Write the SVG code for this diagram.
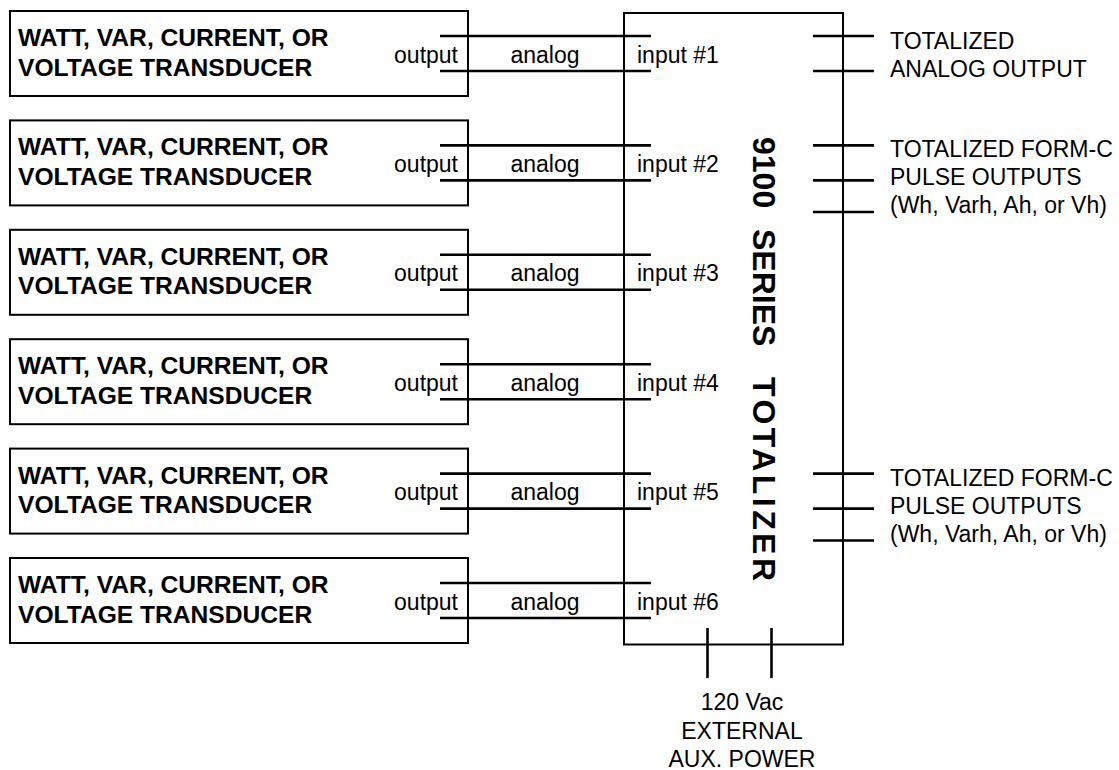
<svg xmlns="http://www.w3.org/2000/svg" width="1119" height="770" viewBox="0 0 1119 770">
<style>
.box{fill:none;stroke:#000;stroke-width:2}
.ln{stroke:#000;stroke-width:2.6;fill:none}
.b{font-family:"Liberation Sans",Arial,sans-serif;font-weight:bold;font-size:24.6px;fill:#000}
.r{font-family:"Liberation Sans",Arial,sans-serif;font-size:23px;fill:#000}
.t{font-family:"Liberation Sans",Arial,sans-serif;font-weight:bold;font-size:32px;fill:#000}
</style>
<rect x="0" y="0" width="1119" height="770" fill="#fff"/>
<g id="transducer1"><rect class="box" x="10" y="11" width="458" height="85"/><text class="b" x="18" y="46">WATT, VAR, CURRENT, OR</text><text class="b" x="18" y="75.5">VOLTAGE TRANSDUCER</text><text class="r" x="458" y="62.5" text-anchor="end">output</text></g>
<g id="transducer2"><rect class="box" x="10" y="120.4" width="458" height="85"/><text class="b" x="18" y="155.4">WATT, VAR, CURRENT, OR</text><text class="b" x="18" y="184.9">VOLTAGE TRANSDUCER</text><text class="r" x="458" y="171.9" text-anchor="end">output</text></g>
<g id="transducer3"><rect class="box" x="10" y="229.8" width="458" height="85"/><text class="b" x="18" y="264.8">WATT, VAR, CURRENT, OR</text><text class="b" x="18" y="294.3">VOLTAGE TRANSDUCER</text><text class="r" x="458" y="281.3" text-anchor="end">output</text></g>
<g id="transducer4"><rect class="box" x="10" y="339.2" width="458" height="85"/><text class="b" x="18" y="374.2">WATT, VAR, CURRENT, OR</text><text class="b" x="18" y="403.7">VOLTAGE TRANSDUCER</text><text class="r" x="458" y="390.7" text-anchor="end">output</text></g>
<g id="transducer5"><rect class="box" x="10" y="448.6" width="458" height="85"/><text class="b" x="18" y="483.6">WATT, VAR, CURRENT, OR</text><text class="b" x="18" y="513.1">VOLTAGE TRANSDUCER</text><text class="r" x="458" y="500.1" text-anchor="end">output</text></g>
<g id="transducer6"><rect class="box" x="10" y="558" width="458" height="85"/><text class="b" x="18" y="593">WATT, VAR, CURRENT, OR</text><text class="b" x="18" y="622.5">VOLTAGE TRANSDUCER</text><text class="r" x="458" y="609.5" text-anchor="end">output</text></g>
<g id="totalizer"><rect class="box" x="624" y="13" width="219" height="631.5"/>
<text class="r" x="637" y="62.5">input #1</text>
<text class="r" x="637" y="171.9">input #2</text>
<text class="r" x="637" y="281.3">input #3</text>
<text class="r" x="637" y="390.7">input #4</text>
<text class="r" x="637" y="500.1">input #5</text>
<text class="r" x="637" y="609.5">input #6</text>
<text class="t" transform="translate(753,137) rotate(90)"><tspan x="0">9100</tspan><tspan x="92">SERIES</tspan><tspan x="240" textLength="204" lengthAdjust="spacing">TOTALIZER</tspan></text>
</g>
<g id="connectors">
<path class="ln" d="M440 36H651M440 71H651M440 145.4H651M440 180.4H651M440 254.8H651M440 289.8H651M440 364.2H651M440 399.2H651M440 473.6H651M440 508.6H651M440 583H651M440 618H651"/>
<path class="ln" d="M813 36H874M813 71H874M813 145.4H874M813 180.4H874M813 212H874M813 473.6H874M813 508.6H874M813 540.5H874"/>
<path class="ln" d="M707.5 628V678M771.5 628V678"/>
</g>
<g id="labels">
<text class="r" x="545" y="62.5" text-anchor="middle">analog</text>
<text class="r" x="545" y="171.9" text-anchor="middle">analog</text>
<text class="r" x="545" y="281.3" text-anchor="middle">analog</text>
<text class="r" x="545" y="390.7" text-anchor="middle">analog</text>
<text class="r" x="545" y="500.1" text-anchor="middle">analog</text>
<text class="r" x="545" y="609.5" text-anchor="middle">analog</text>
<text class="r" x="890" y="49">TOTALIZED</text>
<text class="r" x="890" y="77">ANALOG OUTPUT</text>
<text class="r" x="890" y="157">TOTALIZED FORM-C</text>
<text class="r" x="890" y="185">PULSE OUTPUTS</text>
<text class="r" x="890" y="213">(Wh, Varh, Ah, or Vh)</text>
<text class="r" x="890" y="485.5">TOTALIZED FORM-C</text>
<text class="r" x="890" y="513.5">PULSE OUTPUTS</text>
<text class="r" x="890" y="541.5">(Wh, Varh, Ah, or Vh)</text>
<text class="r" x="742" y="710" text-anchor="middle">120 Vac</text>
<text class="r" x="742" y="738.5" text-anchor="middle">EXTERNAL</text>
<text class="r" x="742" y="767" text-anchor="middle">AUX. POWER</text>
</g>
</svg>
